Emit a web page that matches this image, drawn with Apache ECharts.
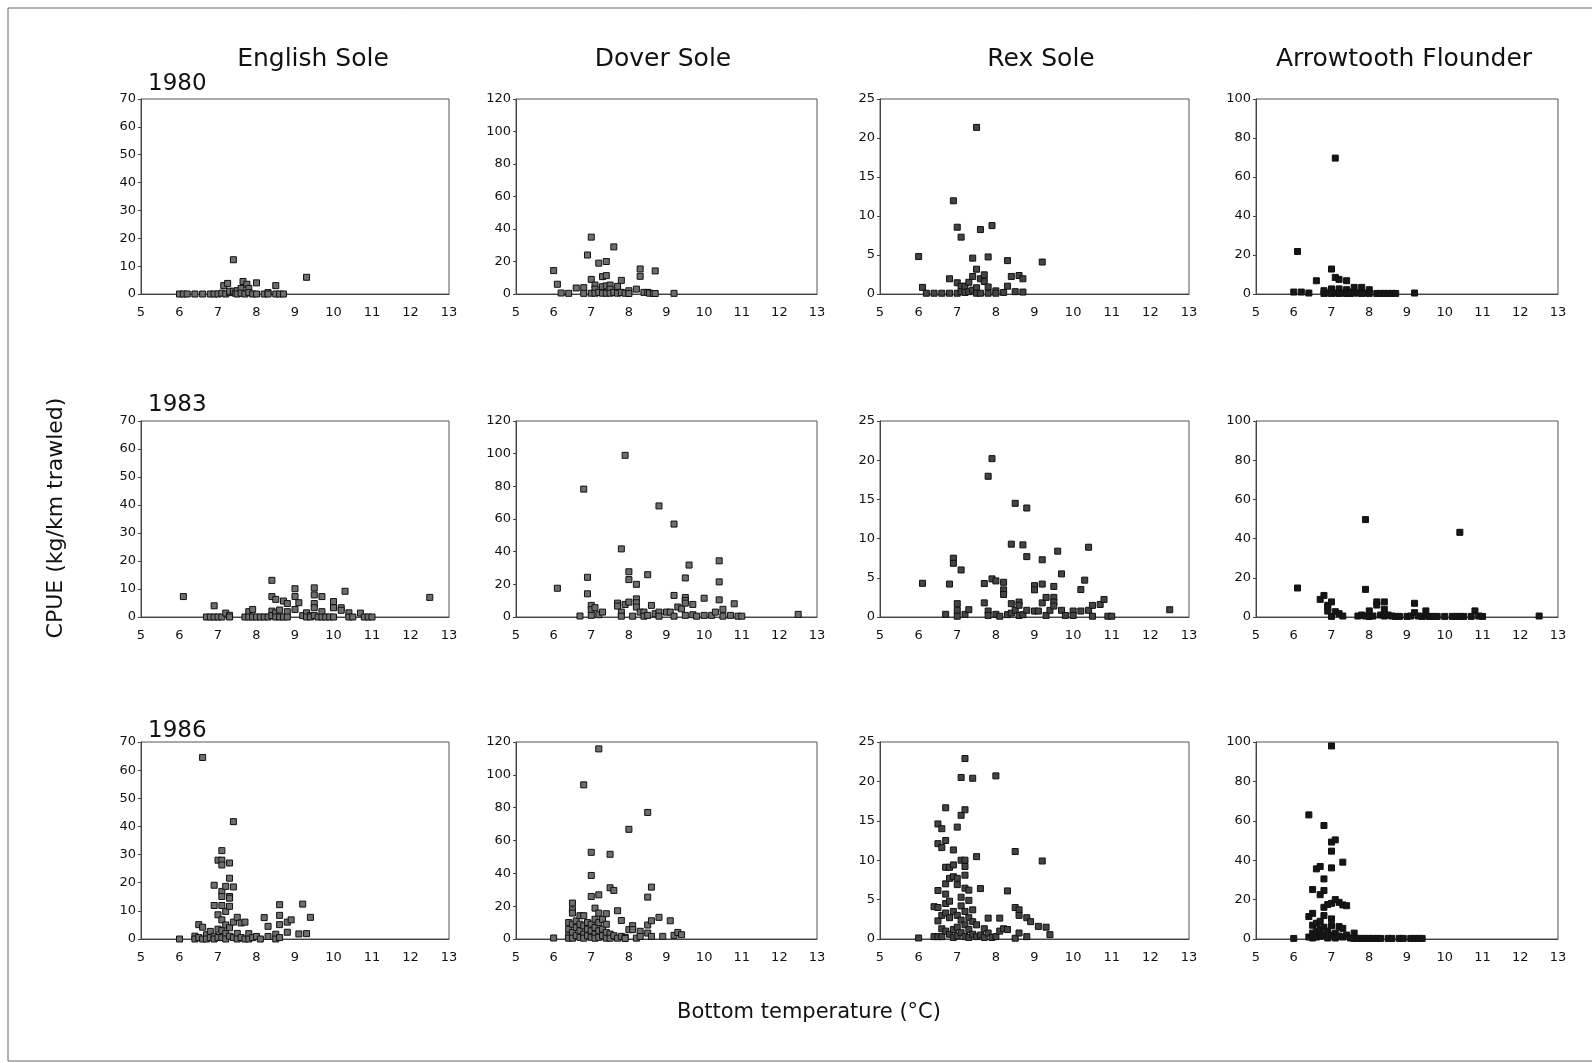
<!DOCTYPE html>
<html><head><meta charset="utf-8">
<script src="https://cdn.jsdelivr.net/npm/echarts@6/dist/echarts.min.js"></script>
<style>html,body{margin:0;padding:0;background:#fff}#c{width:1592px;height:1063px}</style>
</head><body><div id="c"></div>
<script>
// Species (columns) and years (rows)
const species = ["English Sole", "Dover Sole", "Rex Sole", "Arrowtooth Flounder"];
const years = ["1980", "1983", "1986"];
const xTicks = [5, 6, 7, 8, 9, 10, 11, 12, 13];
const yMax = [70, 120, 25, 100];
const yStep = [10, 20, 5, 20];

// [temperature, CPUE] pairs
const eng80 = [[6.0,0],[6.1,0],[6.2,0],[6.4,0],[6.6,0],[6.8,0],[6.9,0],[7.0,0],[7.1,0.3],[7.15,3],[7.25,3.8],[7.2,0],[7.3,0.5],[7.3,1],[7.4,12.3],[7.4,1],[7.45,0.3],[7.5,1.2],[7.5,0],[7.6,2],[7.6,0.3],[7.65,4.5],[7.7,0],[7.75,3.5],[7.8,2],[7.8,0.5],[7.9,0],[8.0,4],[8.0,0],[8.2,0],[8.3,0.5],[8.3,0],[8.5,3],[8.5,0],[8.6,0],[8.7,0],[9.3,6]];
const dov80 = [[6.0,14.4],[6.1,6],[6.2,0.6],[6.4,0.4],[6.6,3.7],[6.8,3.9],[6.8,0.4],[6.9,24],[7.0,35],[7.0,9],[7.0,0.5],[7.1,5.5],[7.1,3],[7.1,0.5],[7.2,19],[7.2,1],[7.3,10.7],[7.3,4.5],[7.3,0.5],[7.4,11.3],[7.4,20],[7.4,5],[7.4,0.5],[7.5,5.5],[7.5,3],[7.5,0.5],[7.6,29],[7.6,1],[7.7,4.7],[7.7,0.5],[7.8,8.4],[7.8,1],[7.9,0.5],[8.0,2],[8.0,0.3],[8.2,3],[8.3,15.4],[8.3,10.9],[8.4,1],[8.5,1],[8.55,0.5],[8.65,0.3],[8.7,14.2],[8.7,0.3],[9.2,0.4]];
const rex80 = [[6.0,4.8],[6.1,0.85],[6.2,0.1],[6.4,0.1],[6.6,0.1],[6.8,0.1],[6.8,1.95],[6.9,11.95],[7.0,8.56],[7.0,1.44],[7.0,0.1],[7.1,7.29],[7.1,1],[7.1,0.3],[7.2,1],[7.2,0.2],[7.3,1.5],[7.3,0.3],[7.4,2.25],[7.4,4.6],[7.4,0.5],[7.5,3.18],[7.5,21.36],[7.5,0.8],[7.5,0.1],[7.6,8.26],[7.6,1.95],[7.6,0.1],[7.7,2.46],[7.7,1.6],[7.8,4.75],[7.8,0.9],[7.8,0.1],[7.9,8.77],[8.0,0.4],[8.0,0.1],[8.2,0.2],[8.3,4.28],[8.3,1.0],[8.4,2.25],[8.5,0.3],[8.6,2.37],[8.7,1.95],[8.7,0.25],[9.2,4.1]];
const arr80 = [[6.0,1],[6.1,21.8],[6.2,1],[6.4,0.5],[6.6,6.8],[6.8,1.7],[6.8,0.3],[6.9,0.5],[7.0,12.8],[7.0,2.6],[7.0,0.3],[7.1,69.7],[7.1,8.5],[7.1,0.5],[7.2,7.5],[7.2,2.6],[7.2,0.3],[7.3,0.5],[7.4,6.8],[7.4,2.2],[7.4,0.3],[7.5,1],[7.5,0.3],[7.6,3.4],[7.6,0.5],[7.7,0.5],[7.8,3.4],[7.8,0.3],[7.9,0.5],[8.0,2.2],[8.0,0.3],[8.2,0.3],[8.3,0.3],[8.4,0.3],[8.5,0.3],[8.6,0.3],[8.7,0.3],[9.2,0.5]];
const eng83 = [[6.1,7.3],[6.7,0],[6.8,0],[6.9,4],[6.9,0],[7.0,0],[7.1,0],[7.2,1.4],[7.3,0.6],[7.3,0],[7.7,0],[7.8,1.9],[7.8,0],[7.9,2.7],[7.9,0],[8.0,0],[8.1,0],[8.2,0],[8.3,0],[8.4,13.1],[8.4,7.3],[8.4,2.1],[8.4,0.5],[8.5,6.3],[8.5,1.5],[8.5,0],[8.6,2.5],[8.6,0],[8.7,5.7],[8.7,0],[8.8,4.8],[8.8,1.9],[8.8,0],[9.0,10.1],[9.0,7.3],[9.0,2.7],[9.1,5.1],[9.2,0.5],[9.3,1.5],[9.3,0],[9.4,0.5],[9.4,0],[9.5,10.4],[9.5,7.9],[9.5,4.8],[9.5,3.3],[9.5,0.5],[9.6,0],[9.7,7.3],[9.7,1.9],[9.7,0],[9.8,0],[9.9,0],[10.0,5.5],[10.0,3.3],[10.0,0],[10.2,3.3],[10.2,2.4],[10.3,9.2],[10.4,1.5],[10.4,0],[10.5,0],[10.7,1.4],[10.8,0],[10.9,0],[11.0,0],[12.5,7]];
const dov83 = [[6.1,17.6],[6.7,0.6],[6.8,78.3],[6.9,24.3],[6.9,14.2],[7.0,7.1],[7.0,4.5],[7.0,1],[7.1,5.7],[7.2,1.4],[7.3,3],[7.7,8.5],[7.7,6.7],[7.8,41.7],[7.8,3],[7.8,0.5],[7.9,99],[7.9,7.7],[8.0,27.7],[8.0,22.9],[8.0,9.1],[8.1,0.5],[8.2,20],[8.2,11.1],[8.2,8.7],[8.2,6.1],[8.3,3],[8.4,3],[8.4,0.5],[8.5,25.9],[8.5,1],[8.6,7.1],[8.7,2],[8.8,68],[8.8,3],[8.8,0.5],[9.0,3],[9.1,3],[9.2,56.9],[9.2,13.2],[9.2,0.5],[9.3,6.1],[9.4,5],[9.5,23.9],[9.5,11.9],[9.5,10.1],[9.5,8.5],[9.5,1],[9.6,31.8],[9.7,7.7],[9.7,1.4],[9.8,0.5],[10.0,11.5],[10.0,1],[10.2,1],[10.3,3],[10.4,34.4],[10.4,21.5],[10.4,10.5],[10.5,4.7],[10.5,0.5],[10.7,1],[10.8,8.1],[10.9,0.5],[11.0,0.5],[12.5,1.6]];
const rex83 = [[6.1,4.3],[6.7,0.34],[6.8,4.2],[6.9,7.5],[6.9,6.85],[7.0,1.7],[7.0,0.85],[7.0,0.1],[7.1,6.0],[7.2,0.34],[7.3,0.93],[7.7,4.27],[7.7,1.8],[7.8,17.95],[7.8,0.76],[7.8,0.2],[7.9,20.2],[7.9,4.86],[8.0,4.6],[8.0,0.34],[8.1,0.1],[8.2,4.43],[8.2,3.46],[8.2,2.87],[8.3,0.3],[8.4,9.29],[8.4,1.7],[8.4,0.5],[8.5,14.5],[8.5,0.85],[8.6,1.9],[8.6,1.5],[8.6,0.2],[8.7,9.2],[8.7,0.3],[8.8,13.9],[8.8,7.7],[8.8,0.85],[9.0,4.0],[9.0,3.46],[9.0,0.76],[9.1,0.76],[9.2,7.3],[9.2,4.2],[9.2,1.8],[9.3,2.5],[9.3,0.2],[9.4,0.85],[9.5,3.9],[9.5,2.5],[9.5,1.9],[9.5,1.4],[9.6,8.4],[9.7,5.5],[9.7,0.85],[9.8,0.2],[10.0,0.76],[10.0,0.2],[10.2,3.5],[10.2,0.76],[10.3,4.7],[10.4,8.9],[10.4,0.85],[10.5,1.48],[10.5,0.1],[10.7,1.6],[10.8,2.24],[10.9,0.1],[11.0,0.1],[12.5,0.93]];
const arr83 = [[6.1,14.8],[6.7,9],[6.8,11],[6.9,6],[6.9,5],[6.9,3],[7.0,7.7],[7.0,0.3],[7.1,2.7],[7.2,1.7],[7.3,0.5],[7.7,0.5],[7.8,1],[7.9,49.7],[7.9,14.1],[7.9,0.5],[8.0,3.1],[8.0,0.3],[8.1,0.5],[8.2,7.7],[8.2,6.1],[8.3,1],[8.4,7.7],[8.4,3.9],[8.4,0.5],[8.5,1],[8.6,0.5],[8.7,0.3],[8.8,0.3],[9.0,0.3],[9.1,0.5],[9.2,7],[9.2,2.2],[9.3,0.5],[9.4,0.3],[9.5,3.1],[9.5,0.5],[9.6,0.3],[9.7,0.3],[9.8,0.3],[10.0,0.3],[10.2,0.3],[10.3,0.3],[10.4,43.2],[10.4,0.3],[10.5,0.3],[10.7,0.3],[10.8,3.1],[10.9,0.5],[11.0,0.3],[12.5,0.5]];
const eng86 = [[6.0,0],[6.4,1],[6.4,0],[6.5,5.1],[6.5,0.5],[6.6,64.5],[6.6,4.2],[6.6,0],[6.7,1.5],[6.7,0],[6.8,2.7],[6.8,0.5],[6.9,19.1],[6.9,11.9],[6.9,1],[6.9,0],[7.0,8.6],[7.0,3.5],[7.0,28],[7.0,0.5],[7.1,31.4],[7.1,28],[7.1,26.3],[7.1,16.9],[7.1,15.1],[7.1,11.9],[7.1,6.8],[7.1,3],[7.1,0.5],[7.2,18.7],[7.2,9.8],[7.2,5],[7.2,2],[7.2,0],[7.3,27],[7.3,21.6],[7.3,15.1],[7.3,14.5],[7.3,11.6],[7.3,4],[7.3,1],[7.4,41.7],[7.4,18.5],[7.4,6],[7.4,0.5],[7.5,7.7],[7.5,2],[7.5,0],[7.6,5.7],[7.6,0.5],[7.7,6],[7.7,0],[7.8,1.9],[7.8,0],[7.9,0.5],[8.0,0.9],[8.1,0],[8.2,7.6],[8.3,4.5],[8.3,0.9],[8.5,1.7],[8.5,0],[8.6,12.2],[8.6,8.4],[8.6,5.1],[8.6,0.5],[8.8,6],[8.8,2.4],[8.9,6.8],[9.1,1.8],[9.2,12.4],[9.3,1.9],[9.4,7.7]];
const dov86 = [[6.0,0.6],[6.4,10],[6.4,6],[6.4,2],[6.4,0.5],[6.5,21.9],[6.5,17.8],[6.5,15.8],[6.5,9],[6.5,4],[6.5,0.5],[6.6,11],[6.6,7],[6.6,2],[6.7,14.2],[6.7,9],[6.7,5],[6.7,1],[6.8,93.9],[6.8,14.2],[6.8,8],[6.8,3],[6.8,0.5],[6.9,10],[6.9,6],[6.9,2],[7.0,52.8],[7.0,38.7],[7.0,25.9],[7.0,9],[7.0,5],[7.0,1],[7.1,18.8],[7.1,12],[7.1,7],[7.1,3],[7.1,0.5],[7.2,115.8],[7.2,26.9],[7.2,15.8],[7.2,10],[7.2,5],[7.2,1],[7.3,12],[7.3,6],[7.3,2],[7.4,15.4],[7.4,9],[7.4,4],[7.4,0.5],[7.5,51.6],[7.5,31.2],[7.5,3],[7.5,0.5],[7.6,29.6],[7.6,2],[7.7,17.2],[7.7,0.5],[7.8,11.3],[7.8,1.6],[7.9,1],[7.9,0.3],[8.0,66.8],[8.0,5.7],[8.1,8.1],[8.1,5.7],[8.2,0.5],[8.3,4.7],[8.3,1.5],[8.5,77.1],[8.5,25.5],[8.5,8.5],[8.5,3.6],[8.6,31.6],[8.6,11.1],[8.6,1.6],[8.8,13.2],[8.9,1.6],[9.1,11.1],[9.2,2.2],[9.3,4],[9.4,2.6]];
const rex86 = [[6.0,0.13],[6.4,4.1],[6.4,0.3],[6.5,14.6],[6.5,12.1],[6.5,6.15],[6.5,4],[6.5,2.3],[6.5,0.3],[6.6,14.0],[6.6,11.6],[6.6,3],[6.6,1.3],[6.6,0.3],[6.7,16.65],[6.7,12.5],[6.7,9.1],[6.7,7.0],[6.7,5.7],[6.7,4.5],[6.7,3.3],[6.7,1],[6.8,9.1],[6.8,7.7],[6.8,4.8],[6.8,2.7],[6.8,0.6],[6.9,11.3],[6.9,9.4],[6.9,7.9],[6.9,3.5],[6.9,1.2],[6.9,0.2],[7.0,14.2],[7.0,7.7],[7.0,6.9],[7.0,3],[7.0,1.5],[7.0,0.4],[7.1,20.5],[7.1,15.7],[7.1,10],[7.1,5.3],[7.1,4.2],[7.1,2.4],[7.1,0.8],[7.2,22.9],[7.2,16.4],[7.2,10],[7.2,9.2],[7.2,8.1],[7.2,6.45],[7.2,3.5],[7.2,1.8],[7.2,0.3],[7.3,6.2],[7.3,4.9],[7.3,2.7],[7.3,1.2],[7.3,0.2],[7.4,20.4],[7.4,3.7],[7.4,2.2],[7.4,0.6],[7.5,10.45],[7.5,1.8],[7.5,0.3],[7.6,6.4],[7.6,0.5],[7.7,1.3],[7.7,0.2],[7.8,2.65],[7.8,0.76],[7.9,0.2],[8.0,20.7],[8.0,0.3],[8.1,2.65],[8.1,1.0],[8.2,1.3],[8.3,6.1],[8.3,1.2],[8.5,11.1],[8.5,4.0],[8.5,0.1],[8.6,3.7],[8.6,3.0],[8.6,0.76],[8.8,2.7],[8.8,0.3],[8.9,2.2],[9.1,1.6],[9.2,9.9],[9.3,1.5],[9.4,0.55]];
const arr86 = [[6.0,0.3],[6.4,63],[6.4,11.4],[6.4,1],[6.5,25.1],[6.5,13],[6.5,7],[6.5,3],[6.5,0.5],[6.6,35.6],[6.6,8],[6.6,4],[6.6,1],[6.7,36.8],[6.7,22.5],[6.7,9],[6.7,5],[6.7,1.5],[6.8,57.6],[6.8,30.5],[6.8,24.6],[6.8,16.1],[6.8,11.9],[6.8,6],[6.8,2],[6.9,17.5],[6.9,4],[6.9,0.5],[7.0,98],[7.0,49.2],[7.0,44.6],[7.0,36.1],[7.0,18.1],[7.0,10.2],[7.0,6.8],[7.0,2],[7.1,50.3],[7.1,20],[7.1,3],[7.1,0.5],[7.2,18.6],[7.2,6.3],[7.2,1.5],[7.3,39],[7.3,17.3],[7.3,5.4],[7.3,1],[7.4,16.9],[7.4,2],[7.5,0.5],[7.6,3],[7.6,0.3],[7.7,0.3],[7.8,0.3],[7.9,0.3],[8.0,0.3],[8.1,0.3],[8.2,0.3],[8.3,0.3],[8.5,0.3],[8.6,0.3],[8.8,0.3],[8.9,0.3],[9.1,0.3],[9.2,0.3],[9.3,0.3],[9.4,0.3]];

const panels = [
  [eng80, dov80, rex80, arr80],
  [eng83, dov83, rex83, arr83],
  [eng86, dov86, rex86, arr86]
];

// layout
const colLeft = [141, 516, 880, 1256];
const colWidth = [308, 301, 309, 302];
const rowTop = [99, 421, 742];
const rowHeight = [195, 196, 197];
const titleX = [313, 663, 1041, 1404];
const yearY = [84, 405, 731];
const FONT = "DejaVu Sans";
const markerFill = ["#6e6e6e", "#6e6e6e", "#444", "#161616"];

const grid = [], xAxis = [], yAxis = [], series = [];
let idx = 0;
for (let r = 0; r < 3; r++) {
  for (let c = 0; c < 4; c++) {
    grid.push({left: colLeft[c], top: rowTop[r], width: colWidth[c], height: rowHeight[r],
      show: true, borderColor: "#555", borderWidth: 1, backgroundColor: "transparent"});
    xAxis.push({type: "value", gridIndex: idx, min: xTicks[0], max: xTicks[xTicks.length - 1], interval: 1,
      axisLine: {show: true, onZero: false, lineStyle: {color: "#444", width: 1}},
      axisTick: {show: false},
      splitLine: {show: false},
      axisLabel: {color: "#111", fontFamily: FONT, fontSize: 13, margin: 12}});
    yAxis.push({type: "value", gridIndex: idx, min: 0, max: yMax[c], interval: yStep[c],
      axisLine: {show: true, lineStyle: {color: "#444", width: 1}},
      axisTick: {show: true, length: 3, lineStyle: {color: "#444"}},
      splitLine: {show: false},
      axisLabel: {color: "#111", fontFamily: FONT, fontSize: 13, margin: 5}});
    series.push({type: "scatter", xAxisIndex: idx, yAxisIndex: idx, data: panels[r][c],
      symbol: "rect", symbolSize: 6,
      itemStyle: {color: markerFill[c], borderColor: "#111", borderWidth: 1, opacity: 1},
      emphasis: {disabled: true}, silent: true});
    idx++;
  }
}

const graphic = [];
species.forEach((s, c) => graphic.push({type: "text", x: titleX[c], y: 59, silent: true,
  style: {text: s, font: "25px 'DejaVu Sans'", fill: "#111", textAlign: "center", textVerticalAlign: "middle"}}));
years.forEach((y, r) => graphic.push({type: "text", x: 148, y: yearY[r], silent: true,
  style: {text: y, font: "23px 'DejaVu Sans'", fill: "#111", textAlign: "left", textVerticalAlign: "middle"}}));
graphic.push({type: "text", x: 56, y: 518, rotation: Math.PI / 2, silent: true,
  style: {text: "CPUE (kg/km trawled)", font: "22px 'DejaVu Sans'", fill: "#111", textAlign: "center", textVerticalAlign: "middle"}});
graphic.push({type: "text", x: 809, y: 1013, silent: true,
  style: {text: "Bottom temperature (°C)", font: "21px 'DejaVu Sans'", fill: "#111", textAlign: "center", textVerticalAlign: "middle"}});
graphic.push({type: "rect", shape: {x: 8, y: 8, width: 1600, height: 1053}, silent: true,
  style: {fill: "none", stroke: "#666", lineWidth: 1}});

const chart = echarts.init(document.getElementById("c"), null, {renderer: "canvas"});
chart.setOption({animation: false, backgroundColor: "#fff", grid, xAxis, yAxis, series, graphic});
</script></body></html>
